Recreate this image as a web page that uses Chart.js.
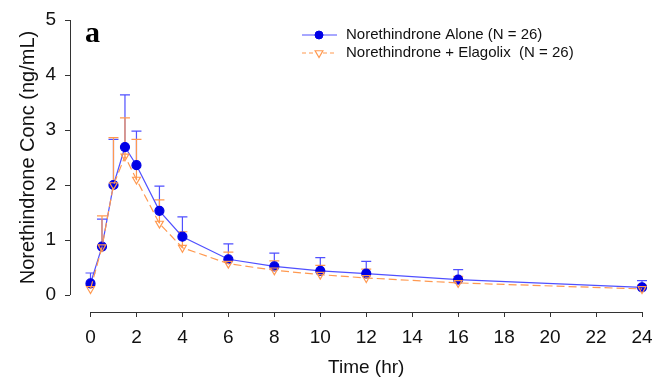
<!DOCTYPE html>
<html>
<head>
<meta charset="utf-8">
<script src="https://cdn.jsdelivr.net/npm/chart.js@4/dist/chart.umd.min.js"></script>
<style>
  html, body { margin: 0; padding: 0; background: #fff; }
  #wrap { width: 652px; height: 380px; }
</style>
</head>
<body>
<div id="wrap"><canvas id="chart" width="652" height="380"></canvas></div>
<script>
// sampling times (hr)
const times = [0, 0.5, 1, 1.5, 2, 3, 4, 6, 8, 10, 12, 16, 24];

// Norethindrone alone: mean and mean + SD (ng/mL)
const aloneMean  = [0.21, 0.88, 2.00, 2.69, 2.36, 1.53, 1.06, 0.65, 0.52, 0.44, 0.39, 0.28, 0.14];
const aloneUpper = [0.40, 1.38, 2.83, 3.64, 2.98, 1.98, 1.42, 0.93, 0.76, 0.68, 0.61, 0.46, 0.26];

// Norethindrone + Elagolix: mean and mean + SD (ng/mL)
const comboMean  = [0.11, 0.87, 2.00, 2.52, 2.10, 1.30, 0.86, 0.57, 0.45, 0.37, 0.31, 0.22, 0.11];
const comboUpper = [0.18, 1.44, 2.86, 3.22, 2.83, 1.73, 1.15, 0.78, 0.62, 0.54, 0.47, 0.34, 0.18];

const xTicks = [0, 2, 4, 6, 8, 10, 12, 14, 16, 18, 20, 22, 24];
const yTicks = [0, 1, 2, 3, 4, 5];

const legendLabels = ['Norethindrone Alone (N = 26)', 'Norethindrone + Elagolix  (N = 26)'];
const xTitle = 'Time (hr)';
const yTitle = 'Norethindrone Conc (ng/mL)';
const panelLabel = 'a';

const BLUE = '#0000e6';
const BLUE_LINE = '#5050ff';
const ORANGE = '#ff9950';
const SANS = '"Liberation Sans", Arial, sans-serif';

const toPoints = (ys) => ys.map((y, i) => ({ x: times[i], y: y }));

// upper error bars (mean -> mean + SD) with a cap
const errorBars = {
  id: 'errorBars',
  beforeDatasetsDraw(chart) {
    const { ctx, scales: { x, y } } = chart;
    const sets = [
      { mean: aloneMean, upper: aloneUpper, color: BLUE_LINE },
      { mean: comboMean, upper: comboUpper, color: ORANGE },
    ];
    ctx.save();
    ctx.lineWidth = 1.2;
    sets.forEach(s => {
      ctx.strokeStyle = s.color;
      times.forEach((t, i) => {
        const px = x.getPixelForValue(t);
        const y0 = y.getPixelForValue(s.mean[i]);
        const y1 = y.getPixelForValue(s.upper[i]);
        ctx.beginPath();
        ctx.moveTo(px, y0);
        ctx.lineTo(px, y1);
        ctx.moveTo(px - 5, y1);
        ctx.lineTo(px + 5, y1);
        ctx.stroke();
      });
    });
    ctx.restore();
  }
};

// R-style detached axes, titles, legend and panel label
const decorations = {
  id: 'decorations',
  afterDraw(chart) {
    const { ctx, chartArea, scales: { x, y } } = chart;
    const x0 = x.getPixelForValue(xTicks[0]);
    const x1 = x.getPixelForValue(xTicks[xTicks.length - 1]);
    const y0 = y.getPixelForValue(yTicks[0]);
    const y1 = y.getPixelForValue(yTicks[yTicks.length - 1]);
    ctx.save();
    ctx.strokeStyle = '#333';
    ctx.lineWidth = 1;
    ctx.beginPath();
    ctx.moveTo(Math.round(chartArea.left) + 0.5, y0);
    ctx.lineTo(Math.round(chartArea.left) + 0.5, y1);
    ctx.moveTo(x0, Math.round(chartArea.bottom) + 0.5);
    ctx.lineTo(x1, Math.round(chartArea.bottom) + 0.5);
    ctx.stroke();

    ctx.fillStyle = '#111';
    ctx.textAlign = 'center';
    ctx.textBaseline = 'middle';
    ctx.font = '19px ' + SANS;
    ctx.fillText(xTitle, (x0 + x1) / 2, 368);
    ctx.save();
    ctx.translate(28, (y0 + y1) / 2);
    ctx.rotate(-Math.PI / 2);
    ctx.font = '20px ' + SANS;
    ctx.fillText(yTitle, 0, 0);
    ctx.restore();

    ctx.font = 'bold 30px "Liberation Serif", "Times New Roman", serif';
    ctx.textAlign = 'left';
    ctx.textBaseline = 'alphabetic';
    ctx.fillStyle = '#000';
    ctx.fillText(panelLabel, 85, 42);

    // legend
    const rows = [35, 53];
    ctx.font = '15px ' + SANS;
    ctx.textBaseline = 'middle';
    rows.forEach((ry, i) => {
      ctx.save();
      ctx.lineWidth = 1.2;
      ctx.strokeStyle = i === 0 ? BLUE_LINE : ORANGE;
      ctx.setLineDash(i === 0 ? [] : [4, 3]);
      ctx.beginPath();
      ctx.moveTo(302, ry);
      ctx.lineTo(337, ry);
      ctx.stroke();
      ctx.restore();
      if (i === 0) {
        ctx.fillStyle = BLUE;
        ctx.strokeStyle = BLUE;
        Chart.helpers.drawPoint(ctx, { pointStyle: 'circle', radius: 4, borderWidth: 1 }, 319, ry);
      } else {
        ctx.fillStyle = '#fff';
        ctx.strokeStyle = ORANGE;
        ctx.lineWidth = 1.2;
        Chart.helpers.drawPoint(ctx, { pointStyle: 'triangle', radius: 4.5, rotation: 180, borderWidth: 1.2 }, 319, ry);
      }
      ctx.fillStyle = '#111';
      ctx.fillText(legendLabels[i], 346, ry);
    });
    ctx.restore();
  }
};

new Chart(document.getElementById('chart'), {
  type: 'line',
  data: {
    datasets: [
      {
        label: legendLabels[0],
        data: toPoints(aloneMean),
        borderColor: BLUE_LINE,
        borderWidth: 1.2,
        pointStyle: 'circle',
        pointRadius: 4.5,
        pointBackgroundColor: BLUE,
        pointBorderColor: BLUE,
        tension: 0,
        clip: false,
        order: 2,
      },
      {
        label: legendLabels[1],
        data: toPoints(comboMean),
        borderColor: ORANGE,
        borderWidth: 1.2,
        borderDash: [8, 4],
        pointStyle: 'triangle',
        pointRotation: 180,
        pointRadius: 4.5,
        pointBackgroundColor: 'rgba(255,255,255,0)',
        pointBorderColor: ORANGE,
        pointBorderWidth: 1.2,
        tension: 0,
        clip: false,
        order: 1,
      },
    ]
  },
  options: {
    responsive: false,
    animation: false,
    events: [],
    layout: { autoPadding: false, padding: { top: 20, right: 6, bottom: 0, left: 0 } },
    plugins: { legend: { display: false }, tooltip: { enabled: false } },
    scales: {
      x: {
        type: 'linear',
        min: -0.892,
        max: 24.174,
        afterFit: s => { s.height = 68; s.paddingLeft = 0; s.paddingRight = 0; },
        afterBuildTicks: s => { s.ticks = xTicks.map(v => ({ value: v })); },
        border: { display: false },
        grid: { drawOnChartArea: false, drawTicks: true, tickLength: 5, color: '#333' },
        ticks: { font: { size: 19, family: SANS }, color: '#111', padding: 9, maxRotation: 0, autoSkip: false },
      },
      y: {
        type: 'linear',
        min: -0.309,
        max: 5,
        afterFit: s => { s.width = 70; s.paddingTop = 0; s.paddingBottom = 0; },
        afterBuildTicks: s => { s.ticks = yTicks.map(v => ({ value: v })); },
        border: { display: false },
        grid: { drawOnChartArea: false, drawTicks: true, tickLength: 5, color: '#333' },
        ticks: { font: { size: 19, family: SANS }, color: '#111', padding: 9, autoSkip: false },
      }
    }
  },
  plugins: [errorBars, decorations]
});
</script>
</body>
</html>
